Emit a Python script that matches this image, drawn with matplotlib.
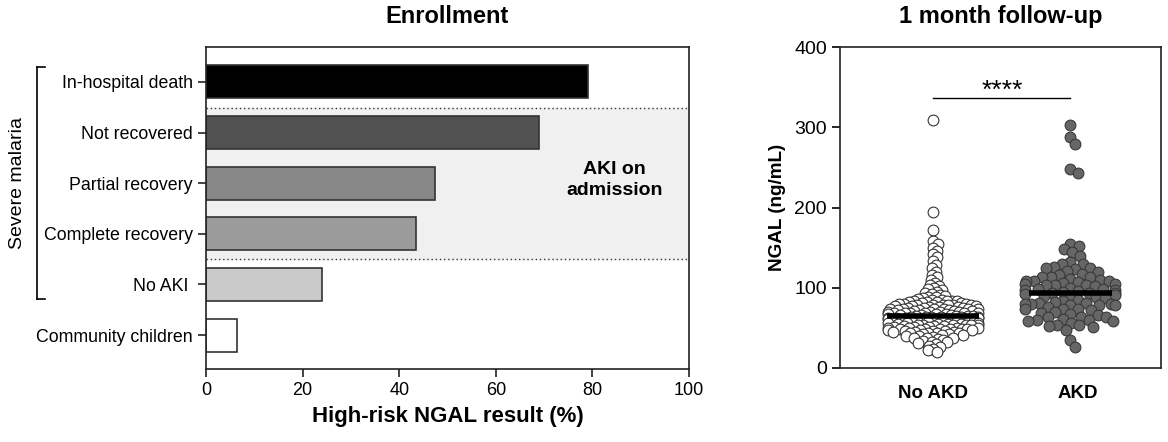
import numpy as np
import matplotlib
matplotlib.use("Agg")
import matplotlib.pyplot as plt

plt.rcParams['font.family'] = ['Liberation Sans', 'DejaVu Sans']

# left panel data
groups = ['In-hospital death', 'Not recovered', 'Partial recovery',
          'Complete recovery', 'No AKI ', 'Community children']
pct = [79, 69, 47.5, 43.5, 24, 6.5]
bar_colors = ['#000000', '#515151', '#878787', '#9b9b9b', '#c9c9c9', '#ffffff']

# right panel data (NGAL ng/mL)
no_akd = [309, 195, 172, 158, 155, 150, 146, 142, 138, 133, 128, 124, 120, 116,
          113, 110, 106, 104, 102, 100, 98, 97, 95, 94, 92, 91, 90, 89, 88, 87,
          86, 85, 85, 84, 84, 83, 83, 82, 82, 82, 81, 81, 80, 80, 80, 79, 79, 79,
          78, 78, 78, 77, 77, 77, 76, 76, 76, 75, 75, 75, 74, 74, 74, 73, 73, 73,
          72, 72, 72, 71, 71, 71, 70, 70, 70, 70, 69, 69, 69, 68, 68, 68, 67, 67,
          67, 66, 66, 66, 65, 65, 65, 65, 64, 64, 64, 63, 63, 63, 62, 62, 62, 62,
          61, 61, 61, 60, 60, 60, 60, 59, 59, 59, 58, 58, 58, 57, 57, 57, 56, 56,
          56, 55, 55, 55, 55, 54, 54, 54, 53, 53, 53, 52, 52, 52, 51, 51, 51, 50,
          50, 50, 50, 49, 49, 49, 48, 48, 48, 47, 47, 47, 46, 46, 46, 45, 45, 45,
          44, 44, 43, 43, 42, 42, 41, 41, 40, 40, 39, 38, 38, 37, 36, 35, 34, 33,
          32, 31, 30, 28, 26, 24, 22, 20]
akd = [303, 288, 279, 248, 243,
       155, 152, 148, 144, 140, 132, 130, 130, 126, 124, 124, 123, 121, 120, 117,
       116, 114, 113, 113, 111, 110, 109, 108, 108, 107, 106, 105, 105, 104, 103,
       103, 102, 100, 99, 98, 97, 97, 96, 95, 94, 93, 93, 92, 91, 90, 89, 88, 87,
       85, 84, 82, 81, 81, 80, 80, 80, 79, 78, 78, 76, 74, 74, 73, 72, 70, 69, 67,
       66, 64, 63, 63, 61, 60, 60, 59, 58, 56, 54, 53, 52, 51, 47, 35, 26]
cats = ['No AKD', 'AKD']


def swarm(vals, dmin, xscale, yscale, cap):
    # simple beeswarm in pixel space, returns x offsets in data units
    placed = []
    out = np.zeros(len(vals))
    order = np.argsort(vals)[::-1]
    for i in order:
        y = vals[i] * yscale
        cands = [0.0]
        for px, py in placed:
            dy = y - py
            if abs(dy) < dmin:
                dx = np.sqrt(dmin ** 2 - dy ** 2)
                cands += [px + dx, px - dx]
        cands.sort(key=abs)
        best = cands[-1]
        for c in cands:
            if all((c - px) ** 2 + (y - py) ** 2 >= dmin ** 2 - 1e-6 for px, py in placed):
                best = c
                break
        best = max(-cap, min(cap, best))
        placed.append((best, y))
        out[i] = best / xscale
    return out


fig = plt.figure(figsize=(11.68, 4.42), dpi=100)

# ---- Enrollment panel ----
ax = fig.add_axes([206 / 1168, 73 / 442, 483 / 1168, 322 / 442])
ypos = np.arange(len(groups))
ax.axhspan(0.52, 3.5, xmin=0, xmax=1, color='#f0f0f0', zorder=0)
ax.axhline(0.52, color='#333333', ls=(0, (1, 2)), lw=1, zorder=1)
ax.axhline(3.5, color='#333333', ls=(0, (1, 2)), lw=1, zorder=1)
ax.barh(ypos, pct, height=0.65, color=bar_colors, edgecolor='#333333', lw=1.2, zorder=2)
ax.set_xlim(0, 100)
ax.set_ylim(5.67, -0.69)
ax.set_yticks(ypos)
ax.set_yticklabels(groups, fontsize=12.8)
ax.set_xticks(range(0, 101, 20))
ax.tick_params(axis='x', labelsize=13)
ax.tick_params(axis='both', length=6, width=1.2, color='#222222')
for s in ax.spines.values():
    s.set_linewidth(1.2)
    s.set_color('#222222')
ax.set_xlabel('High-risk NGAL result (%)', fontsize=16, fontweight='bold', labelpad=5)
ax.set_title('Enrollment', fontsize=17, fontweight='bold', pad=17)
ax.text(84.5, 1.94, 'AKI on\nadmission', ha='center', va='center',
        fontsize=14, fontweight='bold', linespacing=1.3)

# bracket for severe malaria
y_top = 1 - 67 / 442
y_bot = 1 - 299 / 442
bx = 37 / 1168
fig.add_artist(plt.Line2D([bx, bx], [y_bot, y_top], color='black', lw=1.2))
fig.add_artist(plt.Line2D([bx, bx + 8 / 1168], [y_top, y_top], color='black', lw=1.2))
fig.add_artist(plt.Line2D([bx, bx + 8 / 1168], [y_bot, y_bot], color='black', lw=1.2))
fig.text(18 / 1168, (y_top + y_bot) / 2, 'Severe malaria', rotation=90,
         ha='center', va='center', fontsize=14)

# ---- Follow-up panel ----
ax2 = fig.add_axes([840 / 1168, 74 / 442, 321 / 1168, 321 / 442])
ax2.set_xlim(-0.68, 1.66)
ax2.set_ylim(0, 400)
xs = 321 / 2.34
ys = 321 / 400
off0 = swarm(np.array(no_akd, float), 5.0, xs, ys, 45)
off1 = swarm(np.array(akd, float), 8.5, xs, ys, 45)
ax2.scatter(0 + off0, no_akd, s=60, facecolor='white', edgecolor='#333333', lw=0.8, zorder=3)
ax2.scatter(1 + off1, akd, s=60, facecolor='#666666', edgecolor='#3a3a3a', lw=0.8, zorder=3)
ax2.hlines(np.median(no_akd), -0.34, 0.33, color='black', lw=4, zorder=4)
ax2.hlines(np.median(akd), 0.7, 1.3, color='black', lw=4, zorder=4)
ax2.plot([0, 1], [336, 336], color='black', lw=1)
ax2.text(0.5, 337, '****', ha='center', va='baseline', fontsize=19)
ax2.set_xticks([0, 1.05])
ax2.set_xticklabels(cats, fontsize=13.5, fontweight='bold')
ax2.tick_params(axis='x', length=0, pad=12)
ax2.set_yticks(range(0, 401, 100))
ax2.tick_params(axis='y', labelsize=14, length=6, width=1.2)
for s in ax2.spines.values():
    s.set_linewidth(1.2)
    s.set_color('#222222')
ax2.set_ylabel('NGAL (ng/mL)', fontsize=13.6, fontweight='bold', labelpad=6)
ax2.set_title('1 month follow-up', fontsize=17, fontweight='bold', pad=17)

fig.savefig('out.png', dpi=100)
